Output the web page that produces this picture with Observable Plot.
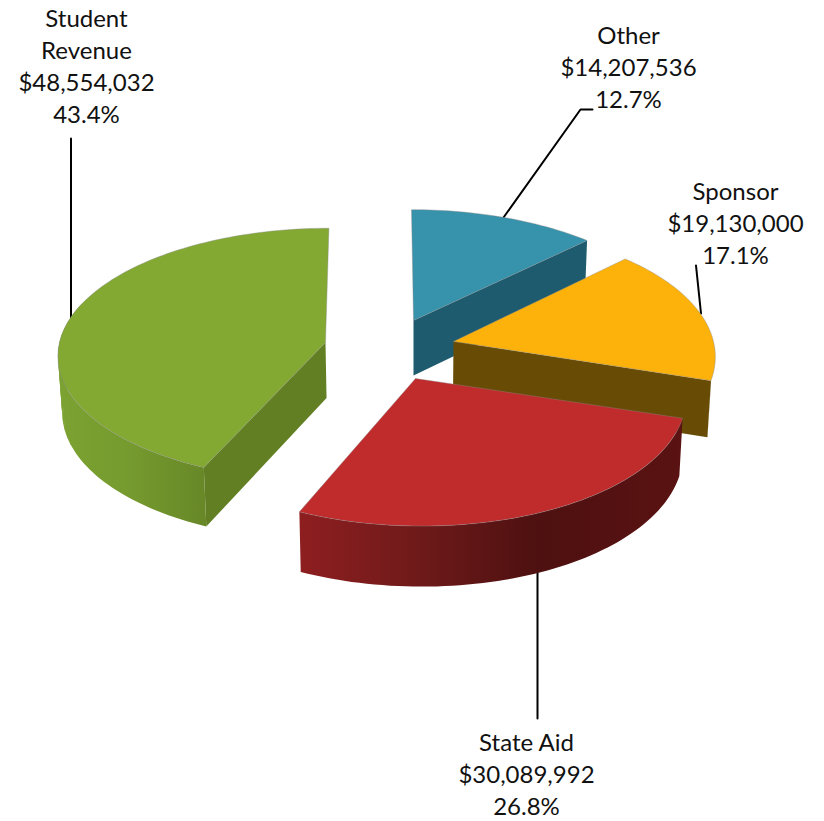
<!DOCTYPE html>
<html><head><meta charset="utf-8">
<style>html,body{margin:0;padding:0;background:#fff}svg{display:block}</style>
<script src="https://cdn.jsdelivr.net/npm/d3@7"></script>
<script src="https://cdn.jsdelivr.net/npm/@observablehq/plot@0.6"></script>
</head><body><div id="chart"></div>
<script>
// Data, clockwise from 12 o'clock
const categories = ["Other", "Sponsor", "State Aid", "Student\nRevenue"];
const values = [14207536, 19130000, 30089992, 48554032];
const percentLabels = ["12.7%", "17.1%", "26.8%", "43.4%"];

// Styling
const topColors = ["#3792AB", "#FDB20B", "#C02B2C", "#83A933"];
const cutColors = ["#1F5B6E", "#684B04", "#7A1A1B", "#637F24"];
const sideStops = [
  [[0, "#1F5B6E"], [1, "#1F5B6E"]],
  [[0, "#684B04"], [1, "#684B04"]],
  [[0, "#8E1E20"], [0.3, "#701A1A"], [0.62, "#4E1010"], [1, "#5A1212"]],
  [[0, "#7CA232"], [0.5, "#759A2E"], [1, "#688828"]]
];

// Layout of the 3D projection
const W = 824, H = 821;
const rxs = [265, 260, 268, 266];
const rys = [124, 128, 130, 125];
const persps = [0.119, 0.119, 0.119, 0.094];
const shears = [0.018, 0, 0.043, -0.03];
const pieX = [413, 453, 415, 325];
const pieY = [320, 341, 378, 342];
const labelX = [628, 735, 526, 86];
const labelY = [65, 221, 772, 64.5];
const paintOrder = [0, 1, 3, 2];

const total = d3.sum(values);
const rad = d => d * Math.PI / 180;
const flat = (i, deg) => {
  const t = rad(deg), p = 1 / (1 + persps[i] * Math.cos(t));
  const dx = rxs[i] * Math.sin(t) * p, dy = -rys[i] * Math.cos(t) * p;
  return [pieX[i] + dx + shears[i] * dy, pieY[i] + dy];
};
const drop = ([x, y]) => [x - 0.012 * (x - 412), y + 52 + 0.027 * (y - 209)];

let acc = 0;
const spans = values.map(v => { const a = acc; acc += v / total * 360; return [a, acc]; });

const arcPts = (i, a0, a1) => {
  const n = Math.max(2, Math.ceil((a1 - a0) / 1.5));
  return d3.range(n + 1).map(k => flat(i, a0 + (a1 - a0) * k / n));
};

// Polygons, built from the values, in paint order
const polys = [], outlines = [];
let pid = 0;
const addPoly = (pts, fill) => { const id = pid++; pts.forEach(([x, y]) => polys.push({id, x, y, fill})); };
const gradients = [];
paintOrder.forEach(i => {
  const [a0, a1] = spans[i];
  const apex = [pieX[i], pieY[i]];
  const cut = a => { const e = flat(i, a); addPoly([apex, e, drop(e), drop(apex)], cutColors[i]); };
  if (Math.sin(rad(a1)) > 1e-6) cut(a1);          // end face turned to the viewer
  if (Math.sin(rad(a0)) < -1e-6) cut(a0);         // start face turned to the viewer
  // Outer wall: only the part that faces the viewer; small overlapping pieces where it folds over
  const lo = Math.max(a0, 107), hi = Math.min(a1, 288);
  if (hi > lo) {
    const xs = arcPts(i, lo, hi).map(d => d[0]);
    gradients.push({id: `wall${i}`, x0: d3.min(xs), x1: d3.max(xs), stops: sideStops[i]});
    const sections = [[lo, Math.min(hi, 250)]];
    for (let a = 249; a < hi; a += 3) sections.push([a, a + 4]);
    sections.forEach(([s0, s1]) => {
      if (s1 <= s0) return;
      const wall = arcPts(i, s0, s1);
      addPoly([...wall, ...wall.map(drop).reverse()], `url(#wall${i})`);
    });
  }
  const top = [apex, ...arcPts(i, a0, a1)];
  addPoly(top, topColors[i]);
  top.concat([apex]).forEach(([x, y]) => outlines.push({id: i, x, y}));
});

const leaders = [
  {id: 0, x: 592, y: 109}, {id: 0, x: 580, y: 109}, {id: 0, x: 503, y: 217},
  {id: 1, x: 695.5, y: 265}, {id: 1, x: 700.5, y: 313},
  {id: 2, x: 537, y: 568}, {id: 2, x: 537, y: 718},
  {id: 3, x: 70.5, y: 138}, {id: 3, x: 70.5, y: 318}
];

const labels = categories.map((c, i) => ({
  text: `${c}\n${d3.format("$,")(values[i])}\n${percentLabels[i]}`,
  x: labelX[i], y: labelY[i]
}));

const defsMark = () => {
  const defs = d3.create("svg:defs");
  gradients.forEach(g => {
    const lg = defs.append("linearGradient").attr("id", g.id)
      .attr("gradientUnits", "userSpaceOnUse")
      .attr("x1", g.x0).attr("x2", g.x1).attr("y1", 0).attr("y2", 0);
    g.stops.forEach(([o, c]) => lg.append("stop").attr("offset", o).attr("stop-color", c));
  });
  return defs.node();
};

const chart = Plot.plot({
  width: W, height: H, margin: 0,
  x: {axis: null, domain: [0, W], range: [0, W]},
  y: {axis: null, domain: [0, H], range: [0, H]},
  color: {type: "identity"},
  marks: [
    defsMark,
    Plot.line(leaders, {x: "x", y: "y", z: "id", stroke: "#000", strokeWidth: 2, curve: "linear"}),
    Plot.line(polys, {x: "x", y: "y", z: "id", fill: "fill", curve: "linear"}),
    Plot.line(outlines, {x: "x", y: "y", z: "id", stroke: "#8a8a8a", strokeOpacity: 0.4, strokeWidth: 1, curve: "linear"}),
    Plot.text(labels, {x: "x", y: "y", text: "text", fontFamily: "Lato", fontSize: 24, lineHeight: 1.335, textAnchor: "middle", fill: "#111"})
  ]
});
document.getElementById("chart").append(chart);
</script></body></html>
